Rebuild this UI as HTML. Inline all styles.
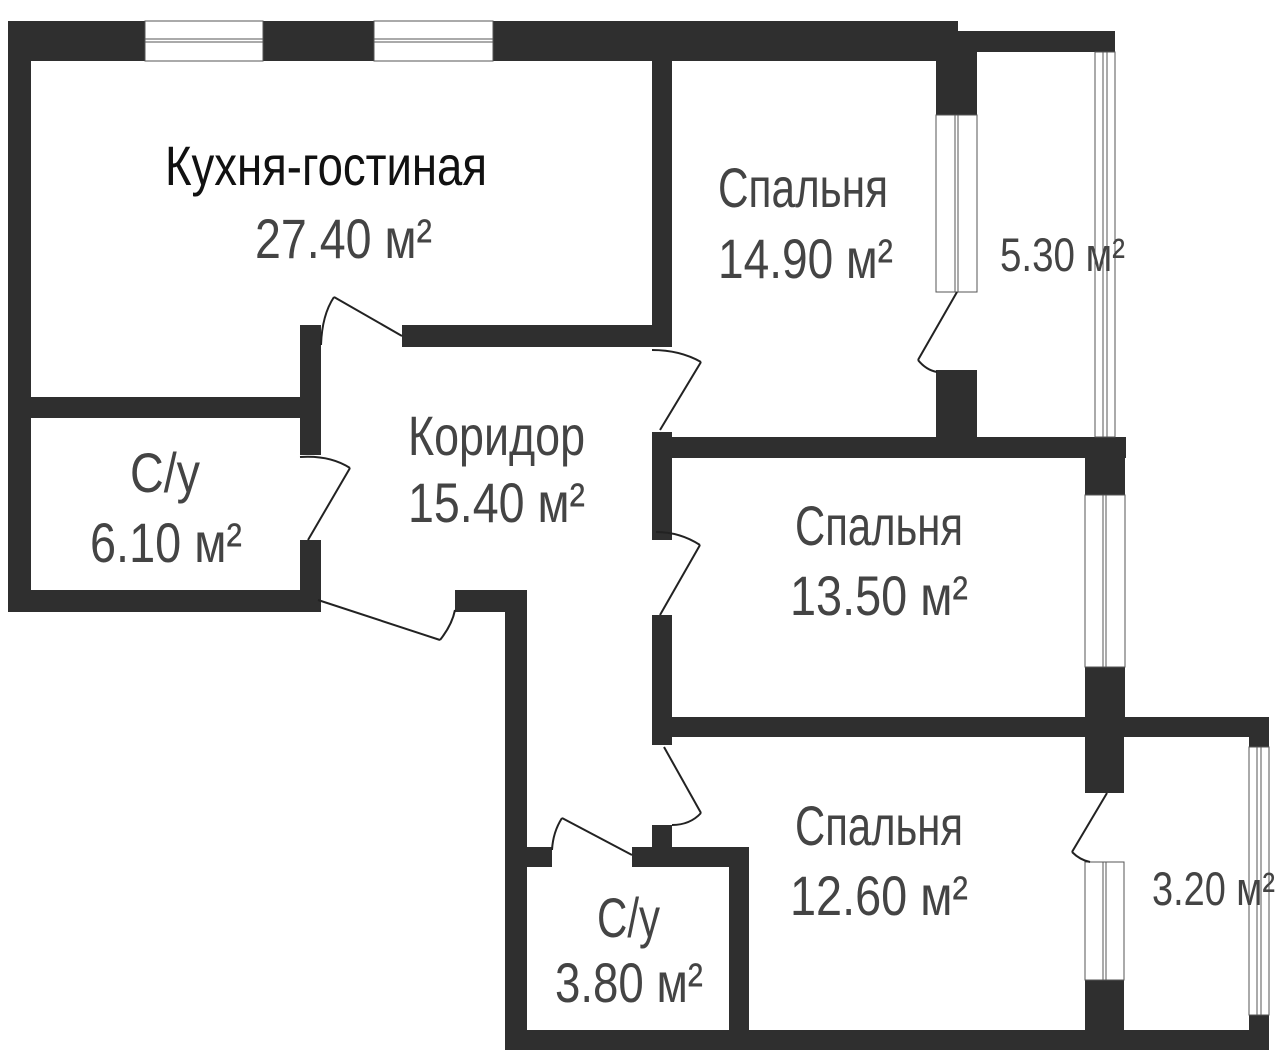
<!DOCTYPE html>
<html><head><meta charset="utf-8"><style>
html,body{margin:0;padding:0;background:#fff;}
svg{display:block;}
text{font-family:"Liberation Sans Narrow","Liberation Sans",sans-serif;fill:#444;}
</style></head><body>
<svg width="1280" height="1057" viewBox="0 0 1280 1057" xmlns="http://www.w3.org/2000/svg">
<g fill="#2f2f2f">
<rect x="8" y="21" width="950" height="40"/>
<rect x="958" y="31" width="157" height="21"/>
<rect x="652" y="21" width="20" height="326"/>
<rect x="936" y="52" width="41" height="63"/>
<rect x="936" y="370" width="41" height="67"/>
<rect x="652" y="437" width="474" height="21"/>
<rect x="8" y="21" width="23" height="591"/>
<rect x="402" y="325" width="270" height="22"/>
<rect x="300" y="325" width="21" height="130"/>
<rect x="8" y="397" width="313" height="21"/>
<rect x="300" y="540" width="21" height="72"/>
<rect x="8" y="590" width="313" height="22"/>
<rect x="455" y="590" width="72" height="22"/>
<rect x="505" y="590" width="22" height="460"/>
<rect x="652" y="432" width="20" height="108"/>
<rect x="652" y="615" width="20" height="130"/>
<rect x="652" y="825" width="20" height="42"/>
<rect x="1085" y="437" width="40" height="58"/>
<rect x="1085" y="667" width="40" height="70"/>
<rect x="652" y="717" width="617" height="20"/>
<rect x="1085" y="737" width="39" height="56"/>
<rect x="1085" y="980" width="39" height="70"/>
<rect x="1249" y="737" width="20" height="10"/>
<rect x="1249" y="1015" width="20" height="35"/>
<rect x="505" y="847" width="47" height="20"/>
<rect x="632" y="847" width="117" height="20"/>
<rect x="729" y="847" width="20" height="203"/>
<rect x="505" y="1030" width="764" height="20"/>
</g>
<g fill="#fff" stroke="#555" stroke-width="1">
<rect x="145" y="21" width="118" height="40"/>
<rect x="374" y="21" width="119" height="40"/>
<rect x="936" y="115" width="41" height="177"/>
<rect x="1095" y="52" width="20" height="385"/>
<rect x="1085" y="495" width="40" height="172"/>
<rect x="1085" y="862" width="39" height="118"/>
<rect x="1249" y="747" width="20" height="268"/>
</g>
<g stroke="#555" stroke-width="1" fill="none">
<line x1="145" y1="39" x2="263" y2="39"/><line x1="145" y1="42" x2="263" y2="42"/>
<line x1="374" y1="39" x2="493" y2="39"/><line x1="374" y1="42" x2="493" y2="42"/>
<line x1="955" y1="115" x2="955" y2="292"/><line x1="958" y1="115" x2="958" y2="292"/>
<line x1="1103" y1="52" x2="1103" y2="437"/><line x1="1107" y1="52" x2="1107" y2="437"/>
<line x1="1103" y1="495" x2="1103" y2="667"/><line x1="1106" y1="495" x2="1106" y2="667"/>
<line x1="1103" y1="862" x2="1103" y2="980"/><line x1="1106" y1="862" x2="1106" y2="980"/>
<line x1="1257" y1="747" x2="1257" y2="1015"/><line x1="1261" y1="747" x2="1261" y2="1015"/>
</g>
<g stroke="#222" stroke-width="2" fill="none">
<line x1="402" y1="336" x2="334" y2="297"/><path d="M334 297 Q322 315 321 345"/>
<line x1="660" y1="430" x2="701" y2="362"/><path d="M701 362 Q680 350 652 350"/>
<line x1="957" y1="292" x2="918" y2="360"/><path d="M918 360 Q926 370 937 372"/>
<line x1="308" y1="540" x2="350" y2="468"/><path d="M350 468 Q330 455 300 457"/>
<line x1="318" y1="600" x2="440" y2="640"/><path d="M440 640 Q452 625 455 610"/>
<line x1="660" y1="615" x2="700" y2="545"/><path d="M700 545 Q680 532 656 532"/>
<line x1="664" y1="747" x2="701" y2="813"/><path d="M701 813 Q690 825 672 825"/>
<line x1="632" y1="855" x2="562" y2="818"/><path d="M562 818 Q553 832 552 850"/>
<line x1="1107" y1="793" x2="1072" y2="852"/><path d="M1072 852 Q1080 860 1090 862"/>
</g>
<text x="165" y="185" textLength="322" lengthAdjust="spacingAndGlyphs" font-size="56" style="fill:#111">Кухня-гостиная</text>
<text x="255" y="258" textLength="177" lengthAdjust="spacingAndGlyphs" font-size="56">27.40 м²</text>
<text x="718" y="207" textLength="170" lengthAdjust="spacingAndGlyphs" font-size="56">Спальня</text>
<text x="718" y="278" textLength="175" lengthAdjust="spacingAndGlyphs" font-size="56">14.90 м²</text>
<text x="1000" y="271" textLength="125" lengthAdjust="spacingAndGlyphs" font-size="47">5.30 м²</text>
<text x="408" y="455" textLength="177" lengthAdjust="spacingAndGlyphs" font-size="56">Коридор</text>
<text x="408" y="522" textLength="177" lengthAdjust="spacingAndGlyphs" font-size="56">15.40 м²</text>
<text x="130" y="492" textLength="70" lengthAdjust="spacingAndGlyphs" font-size="56">С/у</text>
<text x="90" y="562" textLength="152" lengthAdjust="spacingAndGlyphs" font-size="56">6.10 м²</text>
<text x="795" y="545" textLength="168" lengthAdjust="spacingAndGlyphs" font-size="56">Спальня</text>
<text x="790" y="615" textLength="178" lengthAdjust="spacingAndGlyphs" font-size="56">13.50 м²</text>
<text x="795" y="845" textLength="168" lengthAdjust="spacingAndGlyphs" font-size="56">Спальня</text>
<text x="790" y="915" textLength="178" lengthAdjust="spacingAndGlyphs" font-size="56">12.60 м²</text>
<text x="597" y="937" textLength="63" lengthAdjust="spacingAndGlyphs" font-size="56">С/у</text>
<text x="555" y="1002" textLength="148" lengthAdjust="spacingAndGlyphs" font-size="56">3.80 м²</text>
<text x="1152" y="905" textLength="123" lengthAdjust="spacingAndGlyphs" font-size="47">3.20 м²</text>
</svg>
</body></html>
